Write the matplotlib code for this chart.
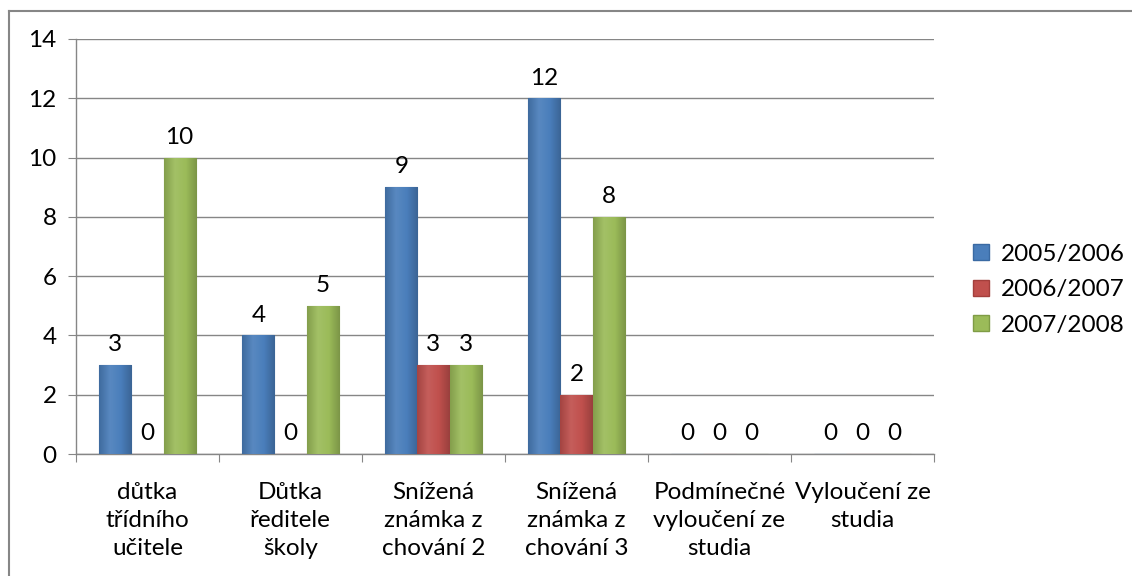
import numpy as np
import matplotlib

matplotlib.use("Agg")
import matplotlib.pyplot as plt
from matplotlib.colors import LinearSegmentedColormap, to_rgb
from matplotlib.lines import Line2D

# ── Data ─────────────────────────────────────────────
categories = [
    "důtka\ntřídního\nučitele",
    "Důtka\nředitele\nškoly",
    "Snížená\nznámka z\nchování 2",
    "Snížená\nznámka z\nchování 3",
    "Podmínečné\nvyloučení ze\nstudia",
    "Vyloučení ze\nstudia",
]
series_names = ["2005/2006", "2006/2007", "2007/2008"]
vals_0506 = [3, 4, 9, 12, 0, 0]
vals_0607 = [0, 0, 3, 2, 0, 0]
vals_0708 = [10, 5, 3, 8, 0, 0]
colors = ["#4a7ebb", "#c0504d", "#9bbb59"]
edges = ["#3a6aa3", "#a33f3c", "#7f9c45"]

plt.rcParams["font.family"] = ["Lato", "DejaVu Sans"]
FS = 17.5


def shade(c, f):
    r = np.array(to_rgb(c))
    return tuple(np.clip(r * f if f < 1 else r + (1 - r) * (f - 1), 0, 1))


fig = plt.figure(figsize=(11.32, 5.76), dpi=100)
ax = fig.add_axes([0.0671, 0.2118, 0.758, 0.7205])

x = np.arange(len(categories))
w = 0.225
grad = np.linspace(0, 1, 64).reshape(1, -1)
for i, (vals, name) in enumerate(zip([vals_0506, vals_0607, vals_0708], series_names)):
    # soft horizontal gradient, roughly like the Office bevel look
    cmap = LinearSegmentedColormap.from_list(
        "g", [shade(colors[i], 0.85), shade(colors[i], 1.08), colors[i], shade(colors[i], 0.8)])
    bars = ax.bar(x + (i - 1) * w, vals, width=w, color=colors[i],
                  edgecolor=edges[i], linewidth=0.8, label=name, zorder=3)
    for b, v in zip(bars, vals):
        if v > 0:
            im = ax.imshow(grad, cmap=cmap, aspect="auto", zorder=3.5,
                           extent=[b.get_x(), b.get_x() + b.get_width(), 0, v])
            im.set_clip_path(b)
        ax.annotate(str(v), (b.get_x() + b.get_width() / 2, v),
                    xytext=(0, 7), textcoords="offset points",
                    ha="center", va="bottom", fontsize=FS)

ax.set_xlim(-0.5, len(categories) - 0.5)
ax.set_ylim(0, 14)
ax.set_yticks(range(0, 15, 2))
ax.tick_params(axis="y", labelsize=FS, length=6, color="#868686", pad=8)
ax.yaxis.grid(True, color="#868686", linewidth=1, zorder=0)

# category boundaries as x ticks
ax.set_xticks(np.arange(-0.5, len(categories), 1.0))
ax.set_xticklabels([])
ax.tick_params(axis="x", length=6, color="#868686")
for xi, lab in zip(x, categories):
    ax.text(xi, -0.95, lab, ha="center", va="top", fontsize=FS,
            linespacing=1.42)

for s in ["top", "right"]:
    ax.spines[s].set_visible(False)
for s in ["left", "bottom"]:
    ax.spines[s].set_color("#868686")
    ax.spines[s].set_linewidth(1)

handles = [Line2D([], [], marker="s", linestyle="none", markersize=11,
                  markerfacecolor=c, markeredgecolor=e) for c, e in zip(colors, edges)]
fig.legend(handles, series_names, loc="center left", bbox_to_anchor=(0.838, 0.497),
           frameon=False, fontsize=FS, handletextpad=0.35, labelspacing=0.6,
           handlelength=0.9)

# outer chart border (top and left visible)
fig.add_artist(Line2D([9 / 1132, 9 / 1132], [0, 1 - 11 / 576], transform=fig.transFigure,
                      color="#868686", linewidth=1.5))
fig.add_artist(Line2D([9 / 1132, 1], [1 - 11 / 576, 1 - 11 / 576], transform=fig.transFigure,
                      color="#868686", linewidth=1.5))

fig.savefig("out.png", dpi=100)
plt.close(fig)
